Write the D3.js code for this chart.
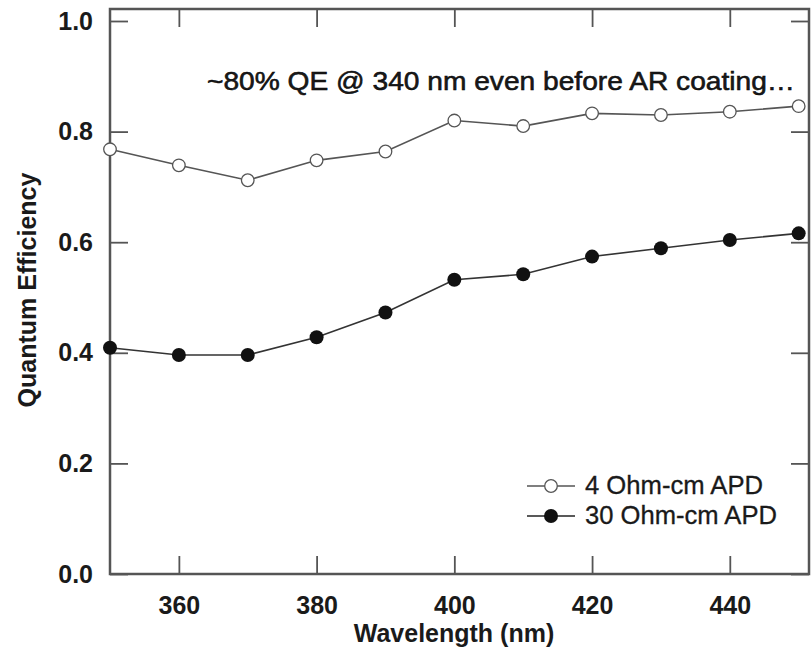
<!DOCTYPE html>
<html lang="en">
<head>
    <meta charset="UTF-8">
    <title>Quantum Efficiency</title>
    <script src="https://d3js.org/d3.v7.min.js"></script>
    <style>
        body { margin: 0; background: #fff; }
        text { font-family: "Liberation Sans", Arial, sans-serif; fill: #1a1a1a; }
    </style>
</head>
<body>
<script>
    var width = 812;
    var height = 650;

    // data
    var wavelengths = [350, 360, 370, 380, 390, 400, 410, 420, 430, 440, 450];
    var qe4 = [0.768, 0.739, 0.712, 0.748, 0.764, 0.820, 0.810, 0.833, 0.830, 0.836, 0.846];
    var qe30 = [0.409, 0.396, 0.396, 0.428, 0.473, 0.532, 0.542, 0.574, 0.589, 0.604, 0.616];
    var xTicks = [360, 380, 400, 420, 440];
    var yTicks = [0.0, 0.2, 0.4, 0.6, 0.8, 1.0];
    var legendLabels = ["4 Ohm-cm APD", "30 Ohm-cm APD"];
    var note = "~80% QE @ 340 nm even before AR coating\u2026";

    // plot box (don't call it "top", window.top is taken)
    var plotL = 110, plotR = 809, plotT = 9, plotB = 574;

    var x = d3.scaleLinear().domain([350, 451.5]).range([plotL, plotR]);
    var y = d3.scaleLinear().domain([0, 1.0217]).range([plotB, plotT]);

    var svg = d3.select("body").append("svg")
        .attr("width", width)
        .attr("height", height);

    var axisColor = "#555";
    var tickLen = 18;

    // ticks, drawn inward on all four sides
    function styleAxis(g) {
        g.select(".domain").remove();
        g.selectAll(".tick line").attr("stroke", axisColor).attr("stroke-width", 1.8);
    }

    svg.append("g")
        .attr("transform", "translate(0," + plotB + ")")
        .call(d3.axisBottom(x).tickValues(xTicks).tickSize(-tickLen).tickPadding(40).tickFormat(d3.format("d")))
        .call(styleAxis)
        .selectAll("text")
        .style("font-size", "25px").style("font-weight", "bold").attr("fill", "#1a1a1a").attr("dy", 0);

    svg.append("g")
        .attr("transform", "translate(0," + plotT + ")")
        .call(d3.axisTop(x).tickValues(xTicks).tickSize(-tickLen).tickFormat(""))
        .call(styleAxis);

    svg.append("g")
        .attr("transform", "translate(" + plotL + ",0)")
        .call(d3.axisLeft(y).tickValues(yTicks).tickSize(-tickLen).tickPadding(17).tickFormat(d3.format(".1f")))
        .call(styleAxis)
        .selectAll("text")
        .style("font-size", "25px").style("font-weight", "bold").attr("fill", "#1a1a1a");

    svg.append("g")
        .attr("transform", "translate(" + plotR + ",0)")
        .call(d3.axisRight(y).tickValues(yTicks).tickSize(-tickLen).tickFormat(""))
        .call(styleAxis);

    // frame
    svg.append("rect")
        .attr("x", plotL).attr("y", plotT)
        .attr("width", plotR - plotL).attr("height", plotB - plotT)
        .attr("fill", "none")
        .attr("stroke", axisColor)
        .attr("stroke-width", 2.5);

    // axis titles
    svg.append("text")
        .attr("x", 454).attr("y", 642)
        .attr("text-anchor", "middle")
        .style("font-size", "25px").style("font-weight", "bold")
        .text("Wavelength (nm)");

    svg.append("text")
        .attr("transform", "translate(36,290) rotate(-90)")
        .attr("text-anchor", "middle")
        .style("font-size", "25px").style("font-weight", "bold")
        .text("Quantum Efficiency");

    // series
    var line = d3.line()
        .x(function (d) { return x(d[0]); })
        .y(function (d) { return y(d[1]); });

    var s4 = d3.zip(wavelengths, qe4);
    var s30 = d3.zip(wavelengths, qe30);

    svg.append("path").datum(s4)
        .attr("d", line).attr("fill", "none")
        .attr("stroke", "#555").attr("stroke-width", 1.6);
    svg.append("path").datum(s30)
        .attr("d", line).attr("fill", "none")
        .attr("stroke", "#333").attr("stroke-width", 1.6);

    svg.append("g").selectAll("circle")
        .data(s4).enter().append("circle")
        .attr("cx", function (d) { return x(d[0]); })
        .attr("cy", function (d) { return y(d[1]); })
        .attr("r", 6.3)
        .attr("fill", "#fff")
        .attr("stroke", "#555").attr("stroke-width", 1.3);

    svg.append("g").selectAll("circle")
        .data(s30).enter().append("circle")
        .attr("cx", function (d) { return x(d[0]); })
        .attr("cy", function (d) { return y(d[1]); })
        .attr("r", 7)
        .attr("fill", "#111");

    // annotation (source font is wider and darker than Arial, so stretch it)
    svg.append("text")
        .attr("x", 207).attr("y", 90)
        .attr("textLength", 588)
        .attr("lengthAdjust", "spacingAndGlyphs")
        .style("font-size", "25px")
        .attr("fill", "#000")
        .attr("stroke", "#000").attr("stroke-width", 0.5)
        .text(note);

    // legend
    var legendWidths = [178, 192];
    var legend = svg.append("g");
    legendLabels.forEach(function (lab, i) {
        var ly = 486 + i * 30;
        legend.append("line")
            .attr("x1", 527).attr("x2", 575)
            .attr("y1", ly).attr("y2", ly)
            .attr("stroke", i === 0 ? "#555" : "#222").attr("stroke-width", 1.6);
        legend.append("circle")
            .attr("cx", 551).attr("cy", ly)
            .attr("r", i === 0 ? 6.3 : 7)
            .attr("fill", i === 0 ? "#fff" : "#111")
            .attr("stroke", i === 0 ? "#555" : "none")
            .attr("stroke-width", 1.3);
        legend.append("text")
            .attr("x", 585).attr("y", ly + 8)
            .attr("textLength", legendWidths[i])
            .attr("lengthAdjust", "spacingAndGlyphs")
            .style("font-size", "25px")
            .attr("stroke", "#1a1a1a").attr("stroke-width", 0.3)
            .text(lab);
    });
</script>
</body>
</html>
